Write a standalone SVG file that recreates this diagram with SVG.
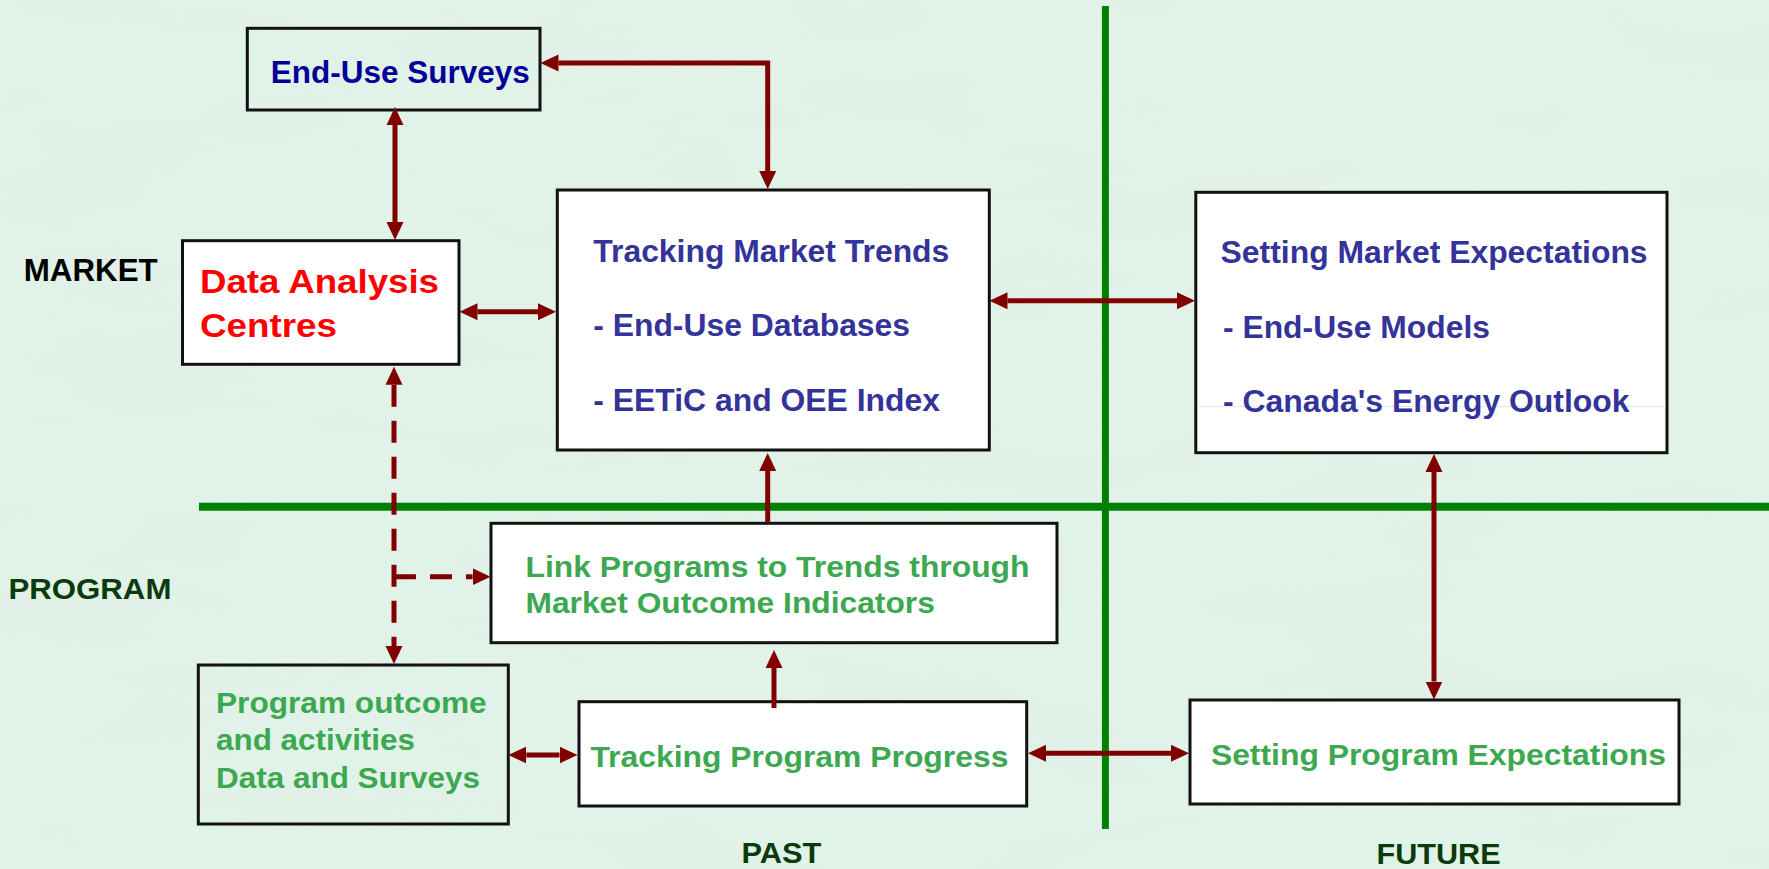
<svg xmlns="http://www.w3.org/2000/svg" width="1769" height="869" viewBox="0 0 1769 869">
  <style>
    text { font-family: "Liberation Sans", Arial, sans-serif; font-weight: bold; }
    .box { stroke: #111111; stroke-width: 3; }
    .white { fill: #ffffff; }
    .clear { fill: none; }
    .navy { fill: #000099; font-size: 31.5px; }
    .indigo { fill: #333399; font-size: 31px; }
    .red { fill: #ff0000; font-size: 34px; }
    .green { fill: #3ca850; font-size: 29px; }
    .axis { fill: #0b3b0b; font-size: 30px; }
    .link { fill: none; stroke: #800000; stroke-width: 5; }
    .dash { stroke-dasharray: 22 14; }
    .grid { stroke: #008000; fill: none; }
  </style>
  <defs>
    <marker id="head" markerUnits="userSpaceOnUse" markerWidth="18" markerHeight="18" refX="0" refY="8.5" orient="auto-start-reverse" viewBox="0 0 18 17">
      <path d="M0,0 L18,8.5 L0,17 z" fill="#800000"/>
    </marker>
    <filter id="mottle" x="0" y="0" width="100%" height="100%">
      <feTurbulence type="fractalNoise" baseFrequency="0.004 0.012" numOctaves="5" seed="7"/>
      <feColorMatrix type="matrix" values="0 0 0 0 0.76  0 0 0 0 0.85  0 0 0 0 0.79  1.6 0 0 0 -0.6"/>
    </filter>
  </defs>

  <!-- textured pale green backdrop -->
  <rect x="0" y="0" width="1769" height="869" fill="#e1f3e9"/>
  <rect x="0" y="0" width="1769" height="869" filter="url(#mottle)" opacity="0.75"/>

  <!-- quadrant axes -->
  <g id="axes">
    <line class="grid" x1="199" y1="506.7" x2="1769" y2="506.7" stroke-width="8"/>
    <line class="grid" x1="1105.4" y1="6" x2="1105.4" y2="829" stroke-width="7"/>
  </g>

  <!-- axis labels -->
  <g id="labels">
    <text x="23.7" y="281" font-size="31.5" fill="#000000" textLength="134" lengthAdjust="spacingAndGlyphs">MARKET</text>
    <text class="axis" x="8.4" y="599" textLength="163" lengthAdjust="spacingAndGlyphs">PROGRAM</text>
    <text class="axis" x="741.4" y="863.3" textLength="80" lengthAdjust="spacingAndGlyphs">PAST</text>
    <text class="axis" x="1376.6" y="864" font-size="29" textLength="124" lengthAdjust="spacingAndGlyphs">FUTURE</text>
  </g>

  <g id="end-use-surveys">
    <rect class="box clear" x="247.3" y="28.3" width="292.7" height="81.7"/>
    <text class="navy" x="270.7" y="83.3" textLength="259" lengthAdjust="spacingAndGlyphs">End-Use Surveys</text>
  </g>

  <g id="data-analysis-centres">
    <rect class="box white" x="182.5" y="240.7" width="276.5" height="123.6"/>
    <text class="red" x="200" y="292.7" textLength="239" lengthAdjust="spacingAndGlyphs">Data Analysis</text>
    <text class="red" x="200" y="337.3" textLength="137" lengthAdjust="spacingAndGlyphs">Centres</text>
  </g>

  <g id="tracking-market-trends">
    <rect class="box white" x="557.3" y="190" width="432" height="260"/>
    <text class="indigo" x="593.3" y="261.7" textLength="356" lengthAdjust="spacingAndGlyphs">Tracking Market Trends</text>
    <text class="indigo" x="593.3" y="336" textLength="316.7" lengthAdjust="spacingAndGlyphs">- End-Use Databases</text>
    <text class="indigo" x="593.3" y="410.7" textLength="346.7" lengthAdjust="spacingAndGlyphs">- EETiC and OEE Index</text>
  </g>

  <g id="setting-market-expectations">
    <rect class="box white" x="1195.8" y="192.3" width="471.2" height="260.4"/>
    <line x1="1197.5" y1="406.7" x2="1665.5" y2="406.7" stroke="#d4eeee" stroke-width="1"/>
    <text class="indigo" x="1220.6" y="263.3" font-size="30.5" textLength="427" lengthAdjust="spacingAndGlyphs">Setting Market Expectations</text>
    <text class="indigo" x="1223" y="338.3" font-size="30.5" textLength="267" lengthAdjust="spacingAndGlyphs">- End-Use Models</text>
    <text class="indigo" x="1223" y="412.3" font-size="30.5" textLength="406.6" lengthAdjust="spacingAndGlyphs">- Canada's Energy Outlook</text>
  </g>

  <g id="link-programs">
    <rect class="box white" x="491" y="523.3" width="566" height="119.4"/>
    <text class="green" x="525.5" y="577.3" font-size="30" textLength="504" lengthAdjust="spacingAndGlyphs">Link Programs to Trends through</text>
    <text class="green" x="525.5" y="613.3" font-size="30" textLength="409.3" lengthAdjust="spacingAndGlyphs">Market Outcome Indicators</text>
  </g>

  <g id="program-outcome-data">
    <rect class="box clear" x="198.3" y="665" width="310" height="159"/>
    <text class="green" x="216" y="713.3" textLength="270.7" lengthAdjust="spacingAndGlyphs">Program outcome</text>
    <text class="green" x="216" y="750" textLength="199" lengthAdjust="spacingAndGlyphs">and activities</text>
    <text class="green" x="216" y="788.3" textLength="264" lengthAdjust="spacingAndGlyphs">Data and Surveys</text>
  </g>

  <g id="tracking-program-progress">
    <rect class="box white" x="579" y="701.7" width="447.7" height="104.3"/>
    <text class="green" x="590.4" y="766.7" textLength="418" lengthAdjust="spacingAndGlyphs">Tracking Program Progress</text>
  </g>

  <g id="setting-program-expectations">
    <rect class="box white" x="1190" y="700" width="489" height="104"/>
    <text class="green" x="1210.9" y="765" font-size="28.5" textLength="455" lengthAdjust="spacingAndGlyphs">Setting Program Expectations</text>
  </g>

  <!-- connectors -->
  <g id="connectors">
    <path class="link" d="M558.5,63 H767.7 V171" marker-start="url(#head)" marker-end="url(#head)"/>
    <path class="link" d="M395,125 V222" marker-start="url(#head)" marker-end="url(#head)"/>
    <path class="link" d="M477.5,311.7 H538" marker-start="url(#head)" marker-end="url(#head)"/>
    <path class="link" d="M1007.5,300.7 H1177" marker-start="url(#head)" marker-end="url(#head)"/>
    <path class="link" d="M767.7,523 V471" marker-end="url(#head)"/>
    <path class="link" d="M774,708 V668" marker-end="url(#head)"/>
    <path class="link" d="M1434,472 V681.5" marker-start="url(#head)" marker-end="url(#head)"/>
    <path class="link" d="M526.3,755 H559.5" marker-start="url(#head)" marker-end="url(#head)"/>
    <path class="link" d="M1046,753.3 H1171" marker-start="url(#head)" marker-end="url(#head)"/>
    <path class="link dash" d="M394,384.7 V646" marker-start="url(#head)" marker-end="url(#head)"/>
    <path class="link dash" d="M394,576.7 H472.6" marker-end="url(#head)"/>
  </g>
</svg>
